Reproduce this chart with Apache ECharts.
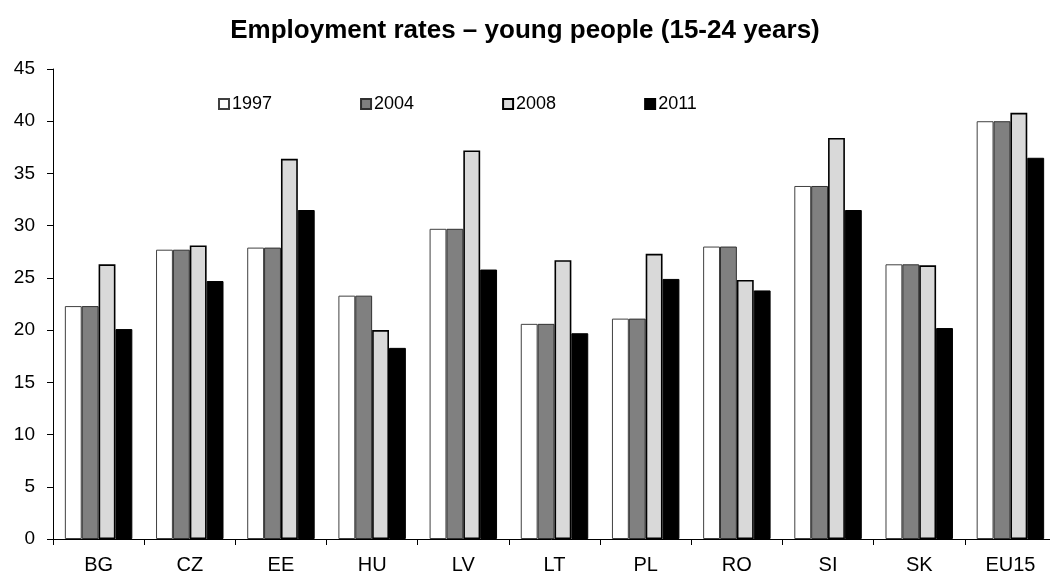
<!DOCTYPE html>
<html>
<head>
<meta charset="utf-8">
<script src="https://cdn.jsdelivr.net/npm/echarts@6/dist/echarts.min.js"></script>
<style>
html,body{margin:0;padding:0;background:#fff;}
#chart{width:1050px;height:572px;}
</style>
</head>
<body>
<div id="chart"></div>
<script>
const categories = ['BG','CZ','EE','HU','LV','LT','PL','RO','SI','SK','EU15'];
const seriesNames = ['1997','2004','2008','2011'];
const v1997 = [22.3,27.7,27.9,23.3,29.7,20.6,21.1,28.0,33.8,26.3,40.0];
const v2004 = [22.3,27.7,27.9,23.3,29.7,20.6,21.1,28.0,33.8,26.3,40.0];
const v2008 = [26.3,28.1,36.4,20.0,37.2,26.7,27.3,24.8,38.4,26.2,40.8];
const v2011 = [20.1,24.7,31.5,18.3,25.8,19.7,24.9,23.8,31.5,20.2,36.5];
const yTicks = [0,5,10,15,20,25,30,35,40,45];

const FONT = '"Liberation Sans", Arial, sans-serif';
const fills = ['#ffffff','#808080','#d9d9d9','#000000'];
const borders = ['#404040','#303030','#000000','#000000'];
const borderW = [1,1,1.6,1];
const values = [v1997, v2004, v2008, v2011];

const chart = echarts.init(document.getElementById('chart'), null, {renderer:'canvas'});
chart.setOption({
  animation:false,
  backgroundColor:'#ffffff',
  title:{
    text:'Employment rates – young people (15-24 years)',
    left:'center', top:13,
    textStyle:{fontFamily:FONT, fontSize:26, fontWeight:'bold', color:'#000'}
  },
  legend:{
    data:seriesNames,
    left:213, top:90,
    itemWidth:10, itemHeight:10, itemGap:88,
    icon:'rect',
    textStyle:{fontFamily:FONT, fontSize:18, color:'#000', padding:[0,0,0,-2]}
  },
  grid:{left:53, top:69, width:1003, height:470, containLabel:false, outerBoundsMode:'none'},
  xAxis:{
    type:'category',
    data:categories,
    axisLine:{lineStyle:{color:'#000', width:1}},
    axisTick:{show:true, length:6, lineStyle:{color:'#000'}},
    axisLabel:{fontFamily:FONT, fontSize:20, color:'#000', margin:16},
    splitLine:{show:false}
  },
  yAxis:{
    type:'value',
    min:yTicks[0], max:yTicks[yTicks.length-1], interval:5,
    axisLine:{show:true, lineStyle:{color:'#000', width:1}},
    axisTick:{show:true, length:6, lineStyle:{color:'#000'}},
    axisLabel:{fontFamily:FONT, fontSize:19, color:'#000', margin:18},
    splitLine:{show:false}
  },
  series: seriesNames.map((n,i)=>({
    name:n, type:'bar', data:values[i],
    barGap:'0%', barCategoryGap:'26%',
    itemStyle:{color:fills[i], borderColor:borders[i], borderWidth:borderW[i]}
  }))
});
</script>
</body>
</html>
